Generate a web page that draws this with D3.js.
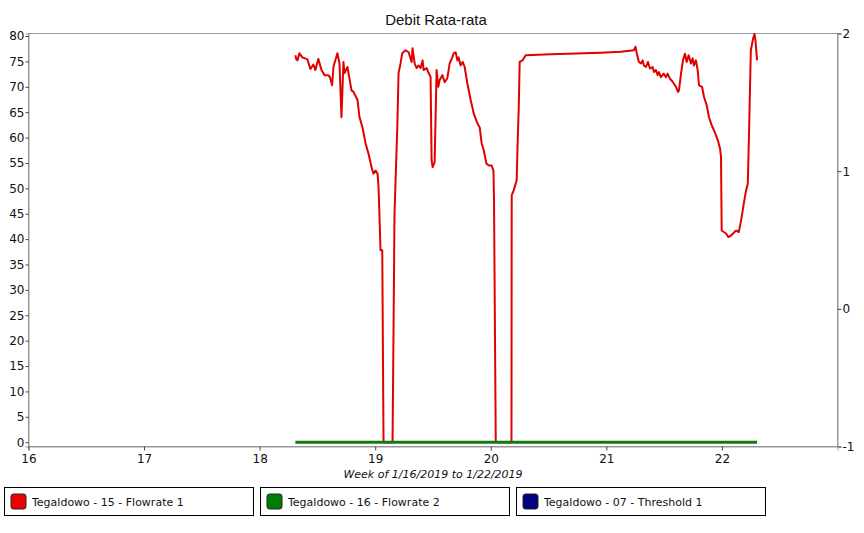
<html>
  <head>
    <meta charset="utf-8" />
    <script src="https://d3js.org/d3.v7.min.js"></script>
    <style>
      body {
        margin: 0;
        background: #fff;
      }
      .tick text {
        font-family: "DejaVu Sans", Verdana, sans-serif;
        font-size: 12px;
        fill: #111;
      }
      .tick line {
        stroke: #444;
      }
      .domain {
        stroke: #999;
      }
    </style>
  </head>

  <body>
    <svg id="chart" width="864" height="533"></svg>

    <script>
      // red series: Tegaldowo - 15 - Flowrate 1 (day of month, value)
      flowDays = [
        18.309, 18.318, 18.327, 18.344, 18.37, 18.413, 18.439, 18.465, 18.482,
        18.508, 18.535, 18.561, 18.595, 18.61, 18.627, 18.639, 18.673, 18.691,
        18.708, 18.725, 18.734, 18.76, 18.769, 18.795, 18.812, 18.847, 18.864,
        18.89, 18.916, 18.942, 18.968, 18.985, 19.003, 19.02, 19.029, 19.046,
        19.061, 19.072, 19.15, 19.167, 19.177, 19.191, 19.202, 19.219, 19.234,
        19.263, 19.289, 19.315, 19.323, 19.341, 19.358, 19.375, 19.393, 19.41,
        19.419, 19.445, 19.462, 19.479, 19.488, 19.497, 19.514, 19.531, 19.546,
        19.557, 19.581, 19.601, 19.624, 19.644, 19.667, 19.679, 19.696, 19.711,
        19.722, 19.739, 19.757, 19.774, 19.797, 19.826, 19.852, 19.884, 19.904,
        19.921, 19.939, 19.962, 19.982, 20.008, 20.023, 20.028, 20.043, 20.179,
        20.181, 20.198, 20.224, 20.233, 20.242, 20.25, 20.274, 20.285, 20.302,
        20.519, 20.952, 21.125, 21.238, 21.252, 21.27, 21.282, 21.299, 21.314,
        21.325, 21.343, 21.36, 21.377, 21.4, 21.412, 21.429, 21.444, 21.455,
        21.472, 21.496, 21.516, 21.53, 21.55, 21.574, 21.602, 21.62, 21.628,
        21.646, 21.663, 21.68, 21.695, 21.712, 21.732, 21.747, 21.758, 21.775,
        21.79, 21.802, 21.828, 21.845, 21.868, 21.888, 21.912, 21.932, 21.964,
        21.984, 21.992, 21.998, 22.016, 22.036, 22.055, 22.079, 22.096, 22.122,
        22.146, 22.166, 22.189, 22.209, 22.224, 22.235, 22.25, 22.267, 22.281,
        22.29, 22.304,
      ];
      flowValues = [
        76.2, 75.4, 75.2, 76.6, 75.8, 75.4, 73.5, 74.4, 73.3, 75.5, 73.3, 72.3,
        72.3, 71.8, 70.3, 74.0, 76.6, 74.6, 64.0, 74.9, 72.7, 73.9, 72.7, 69.3,
        69.0, 67.4, 64.0, 62.0, 58.9, 56.8, 54.2, 52.9, 53.5, 52.9, 50.2, 37.8,
        37.8, 0.0, 0.0, 45.0, 52.2, 62.0, 72.7, 74.6, 76.6, 77.2, 76.8, 74.9,
        77.6, 74.6, 73.7, 74.2, 73.7, 75.2, 73.3, 73.7, 72.7, 72.0, 55.5, 54.2,
        55.1, 73.3, 70.0, 71.3, 72.3, 70.9, 71.7, 74.6, 75.8, 76.6, 76.8, 75.2,
        75.8, 74.2, 74.9, 73.9, 70.7, 67.4, 64.8, 62.8, 62.0, 58.9, 57.5, 54.9,
        54.5, 54.5, 53.5, 47.6, 0.0, 0.0, 48.6, 49.6, 51.6, 59.5, 66.0, 74.9,
        75.2, 75.6, 76.2, 76.4, 76.7, 76.9, 77.2, 77.9, 75.9, 74.9, 74.6, 75.2,
        74.2, 73.9, 74.9, 73.6, 73.9, 72.9, 73.3, 72.3, 72.9, 71.9, 72.6, 71.9,
        72.6, 71.6, 71.0, 70.0, 69.0, 69.3, 72.6, 75.2, 76.5, 74.9, 76.2, 74.6,
        75.6, 74.2, 75.2, 73.3, 70.3, 70.0, 68.0, 66.4, 64.0, 62.4, 61.4, 59.5,
        57.8, 56.2, 41.7, 41.4, 41.1, 40.4, 40.7, 41.1, 41.7, 41.4, 43.7, 47.0,
        49.6, 50.9, 61.4, 77.2, 79.2, 80.4, 79.2, 75.2,
      ];

      // green series: Tegaldowo - 16 - Flowrate 2
      flow2Days = [18.309, 22.304];
      flow2Values = [0, 0];

      leftTicks = d3.range(0, 81, 5);
      rightTicks = [-1, 0, 1, 2];
      dayTicks = [16, 17, 18, 19, 20, 21, 22];

      legendNames = [
        "Tegaldowo - 15 - Flowrate 1",
        "Tegaldowo - 16 - Flowrate 2",
        "Tegaldowo - 07 - Threshold 1",
      ];
      legendColors = ["#ee0000", "#007d00", "#000080"];

      chartTitle = "Debit Rata-rata";
      axisTitle = "Week of 1/16/2019 to 1/22/2019";

      svg = d3.select("svg#chart");

      left = 28.5;
      right = 837.5;
      top_ = 33.5;
      bottom = 446.5;

      x = d3.scaleLinear().domain([16, 23]).range([left, right]);
      y = d3.scaleLinear().domain([-0.85, 80.5]).range([bottom, top_]);
      y2 = d3.scaleLinear().domain([-1, 2]).range([bottom, top_]);

      // plot frame
      svg
        .append("rect")
        .attr("x", left)
        .attr("y", top_)
        .attr("width", right - left)
        .attr("height", bottom - top_)
        .attr("fill", "none")
        .attr("stroke", "#999");

      svg
        .append("g")
        .attr("transform", `translate(${left},0)`)
        .call(d3.axisLeft(y).tickValues(leftTicks).tickSize(3).tickPadding(1));

      svg
        .append("g")
        .attr("transform", `translate(${right},0)`)
        .call(
          d3
            .axisRight(y2)
            .tickValues(rightTicks)
            .tickSize(4)
            .tickPadding(1)
            .tickFormat((d) => String(d))
        );

      svg
        .append("g")
        .attr("transform", `translate(0,${bottom})`)
        .call(
          d3
            .axisBottom(x)
            .tickValues(dayTicks)
            .tickSize(4)
            .tickPadding(4)
            .tickFormat((d) => String(d))
        );

      svg.selectAll(".domain").attr("stroke", "#999");

      let line = d3
        .line()
        .x((d) => x(d[0]))
        .y((d) => y(d[1]));

      svg
        .append("path")
        .datum(d3.zip(flowDays, flowValues))
        .attr("d", line)
        .attr("fill", "none")
        .attr("stroke", "#e00000")
        .attr("stroke-width", 2)
        .attr("stroke-linejoin", "round");

      svg
        .append("path")
        .datum(d3.zip(flow2Days, flow2Values))
        .attr("d", line)
        .attr("fill", "none")
        .attr("stroke", "#117a11")
        .attr("stroke-width", 3);

      svg
        .append("text")
        .attr("x", (left + right) / 2 + 3)
        .attr("y", 25)
        .attr("text-anchor", "middle")
        .style("font-family", "'Liberation Sans', Arial, sans-serif")
        .style("font-size", "15px")
        .attr("fill", "#111")
        .text(chartTitle);

      svg
        .append("text")
        .attr("x", (left + right) / 2)
        .attr("y", 478)
        .attr("text-anchor", "middle")
        .style("font-family", "'DejaVu Sans', Verdana, sans-serif")
        .style("font-size", "11px")
        .style("font-style", "italic")
        .attr("fill", "#111")
        .text(axisTitle);

      // legend boxes
      let legend = svg
        .selectAll("g.legend")
        .data(legendNames)
        .join("g")
        .attr("class", "legend")
        .attr("transform", (d, i) => `translate(${4.5 + i * 256},487.5)`);

      legend
        .append("rect")
        .attr("width", 249)
        .attr("height", 28)
        .attr("fill", "#fff")
        .attr("stroke", "#000");

      legend
        .append("rect")
        .attr("x", 6.5)
        .attr("y", 6.5)
        .attr("width", 15)
        .attr("height", 15)
        .attr("rx", 2.5)
        .attr("fill", (d, i) => legendColors[i])
        .attr("stroke", "#222");

      legend
        .append("text")
        .attr("x", 27.5)
        .attr("y", 18)
        .style("font-family", "'DejaVu Sans', Verdana, sans-serif")
        .style("font-size", "11px")
        .attr("fill", "#111")
        .text((d) => d);
    </script>
  </body>
</html>
